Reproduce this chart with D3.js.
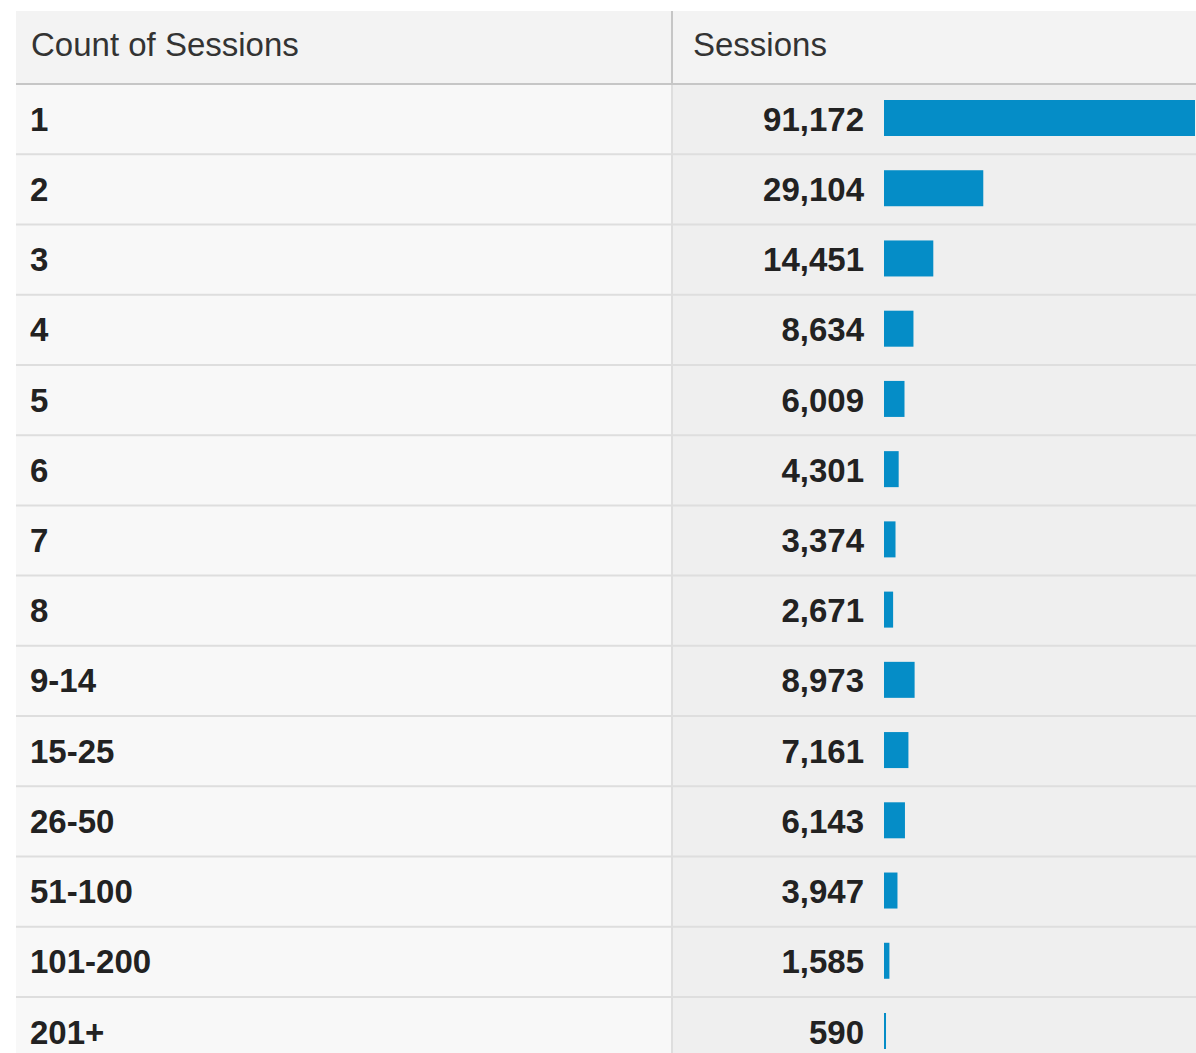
<!DOCTYPE html>
<html><head><meta charset="utf-8">
<script src="https://cdn.jsdelivr.net/npm/d3@7"></script>
<style>html,body{margin:0;padding:0;background:#fff;overflow:hidden}</style>
</head><body>
<svg id="chart" width="1196" height="1053"></svg>
<script>
const categories = ["1","2","3","4","5","6","7","8","9-14","15-25","26-50","51-100","101-200","201+"];
const sessions = [91172,29104,14451,8634,6009,4301,3374,2671,8973,7161,6143,3947,1585,590];
const headers = ["Count of Sessions","Sessions"];

(function(){
const svg = d3.select("#chart");
const W = 1196, H = 1053;
const leftX = 16, rightX = 1196, topY = 11, headerBottom = 84, divX = 672;
const rowH = 70.23;
const font = "'Liberation Sans', Arial, Helvetica, sans-serif";
const fs = 33;

const y = d3.scaleBand().domain(categories).range([headerBottom, headerBottom + rowH*categories.length]).paddingInner(0).paddingOuter(0);
const x = d3.scaleLinear().domain([0, d3.max(sessions)]).range([0, 311]);
const barX = 884;

svg.append("rect").attr("x", leftX).attr("y", topY).attr("width", rightX-leftX).attr("height", headerBottom-topY).attr("fill", "#f3f3f3");
svg.append("rect").attr("x", leftX).attr("y", headerBottom).attr("width", divX-leftX).attr("height", H-headerBottom).attr("fill", "#f8f8f8");
svg.append("rect").attr("x", divX).attr("y", headerBottom).attr("width", rightX-divX).attr("height", H-headerBottom).attr("fill", "#efefef");

svg.append("text").attr("x", 31).attr("y", 56).text(headers[0])
  .attr("font-family", font).attr("font-size", fs).attr("fill", "#333");
svg.append("text").attr("x", 693).attr("y", 56).text(headers[1])
  .attr("font-family", font).attr("font-size", fs).attr("fill", "#333");

const rows = svg.append("g");
categories.forEach((c, i) => {
  if (i > 0) rows.append("line").attr("x1", leftX).attr("x2", rightX)
    .attr("y1", y(c)).attr("y2", y(c)).attr("stroke", "#dedede").attr("stroke-width", 2);
});
svg.append("line").attr("x1", leftX).attr("x2", rightX).attr("y1", headerBottom).attr("y2", headerBottom)
  .attr("stroke", "#c6c6c6").attr("stroke-width", 2);
svg.append("line").attr("x1", divX).attr("x2", divX).attr("y1", topY).attr("y2", headerBottom)
  .attr("stroke", "#c6c6c6").attr("stroke-width", 2);
svg.append("line").attr("x1", divX).attr("x2", divX).attr("y1", headerBottom+1).attr("y2", H)
  .attr("stroke", "#dedede").attr("stroke-width", 2);

const data = categories.map((c, i) => ({c, v: sessions[i]}));

svg.append("g").selectAll("text").data(data).join("text")
  .attr("x", 30).attr("y", d => y(d.c) + y.bandwidth()/2 + 11.5)
  .attr("font-family", font).attr("font-weight", "bold").attr("font-size", fs).attr("fill", "#222")
  .text(d => d.c);

const fmt = d3.format(",");
svg.append("g").selectAll("text").data(data).join("text")
  .attr("x", 864).attr("y", d => y(d.c) + y.bandwidth()/2 + 11.5)
  .attr("text-anchor", "end")
  .attr("font-family", font).attr("font-weight", "bold").attr("font-size", fs).attr("fill", "#222")
  .text(d => fmt(d.v));

svg.append("g").selectAll("rect").data(data).join("rect")
  .attr("x", barX).attr("y", d => y(d.c) + 16)
  .attr("width", d => Math.max(2, x(d.v))).attr("height", 36)
  .attr("fill", "#058dc7");
})();
</script>
</body></html>
